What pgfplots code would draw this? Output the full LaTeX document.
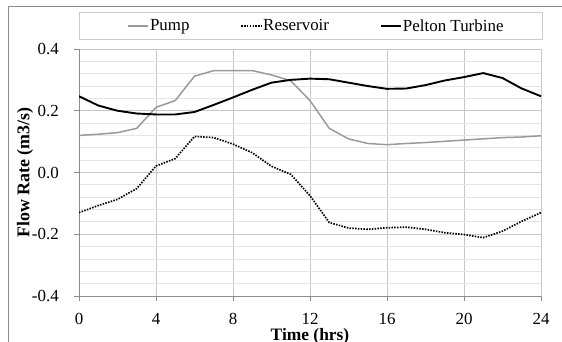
\documentclass[border=0pt]{standalone}
\usepackage{pgfplots}
\pgfplotsset{compat=1.18}
\usepackage{fontspec}
\setmainfont{Liberation Serif}
\definecolor{pumpgray}{HTML}{9A9A9A}
\definecolor{frame}{HTML}{8C8C8C}
\begin{document}
\begin{tikzpicture}
\useasboundingbox (0,0) rectangle (562bp,342bp);
\draw[frame, line width=1bp] (8bp,-10bp) -- (8bp,335bp) -- (600bp,335bp);
\draw[black!20, line width=0.8bp] (79bp,302.7bp) rectangle (542bp,329.3bp);
\begin{axis}[
  at={(79bp,46bp)}, anchor=south west,
  scale only axis, width=462bp, height=247bp,
  xmin=0, xmax=24, ymin=-0.4, ymax=0.4,
  xtick={0,4,8,12,16,20,24},
  ytick={-0.4,-0.2,0,0.2,0.4},
  minor y tick num=4,
  axis lines=left,
  axis line style={-, draw=black!45, line width=0.8bp},
  grid=both,
  major grid style={draw=black!22, line width=0.8bp},
  minor grid style={draw=black!10, line width=0.8bp},
  tick align=outside,
  major tick length=5bp, minor tick length=0bp,
  tick style={draw=black!45, line width=0.8bp},
  /pgf/number format/assume math mode=true,
  ticklabel style={font=\fontsize{17}{20}\selectfont},
  yticklabel style={anchor=east, inner sep=0pt, xshift=-15bp, /pgf/number format/.cd, fixed, fixed zerofill, precision=1},
  xticklabel style={anchor=center, inner sep=0pt, yshift=-17.5bp},
  xlabel={Time (hrs)}, ylabel={Flow Rate (m3/s)},
  every axis x label/.style={at={(axis description cs:0.5,-0.165)}, anchor=center, inner sep=0pt, font=\fontsize{17.5}{20}\selectfont\bfseries},
  every axis y label/.style={at={(axis description cs:-0.1169,0.5)}, anchor=center, rotate=90, font=\fontsize{18}{21}\selectfont\bfseries},
  legend columns=3,
  legend style={at={(axis description cs:0.513,1.093)}, anchor=center, draw=none, fill=none,
    font=\fontsize{17}{20}\selectfont,
    nodes={inner xsep=1bp, inner ysep=0pt},
    /tikz/every even column/.append style={column sep=50bp}},
  legend image code/.code={\draw[#1] (0bp,0bp) -- (20bp,0bp);},
]
\addplot[pumpgray, line width=1.5bp] coordinates {
(0,0.12) (1,0.124) (2,0.129) (3,0.143) (4,0.211) (5,0.233) (6,0.312) (7,0.33) (8,0.33) (9,0.33)
(10,0.316) (11,0.297) (12,0.233) (13,0.143) (14,0.109) (15,0.094) (16,0.09) (17,0.094) (18,0.097)
(19,0.101) (20,0.105) (21,0.109) (22,0.113) (23,0.115) (24,0.119)};
\addlegendentry{Pump}
\addplot[black, line width=1.7bp, dash pattern=on 1.5bp off 1.3bp] coordinates {
(0,-0.13) (1,-0.107) (2,-0.087) (3,-0.052) (4,0.021) (5,0.045) (6,0.117) (7,0.113) (8,0.092)
(9,0.064) (10,0.02) (11,-0.006) (12,-0.075) (13,-0.162) (14,-0.18) (15,-0.184) (16,-0.179)
(17,-0.177) (18,-0.184) (19,-0.195) (20,-0.201) (21,-0.211) (22,-0.19) (23,-0.158) (24,-0.13)};
\addlegendentry{Reservoir}
\addplot[black, line width=1.9bp] coordinates {
(0,0.247) (1,0.217) (2,0.2) (3,0.191) (4,0.188) (5,0.188) (6,0.196) (7,0.219) (8,0.243) (9,0.268)
(10,0.291) (11,0.3) (12,0.304) (13,0.302) (14,0.291) (15,0.28) (16,0.271) (17,0.272) (18,0.283)
(19,0.298) (20,0.309) (21,0.322) (22,0.306) (23,0.272) (24,0.247)};
\addlegendentry{Pelton Turbine}
\end{axis}
\end{tikzpicture}
\end{document}
